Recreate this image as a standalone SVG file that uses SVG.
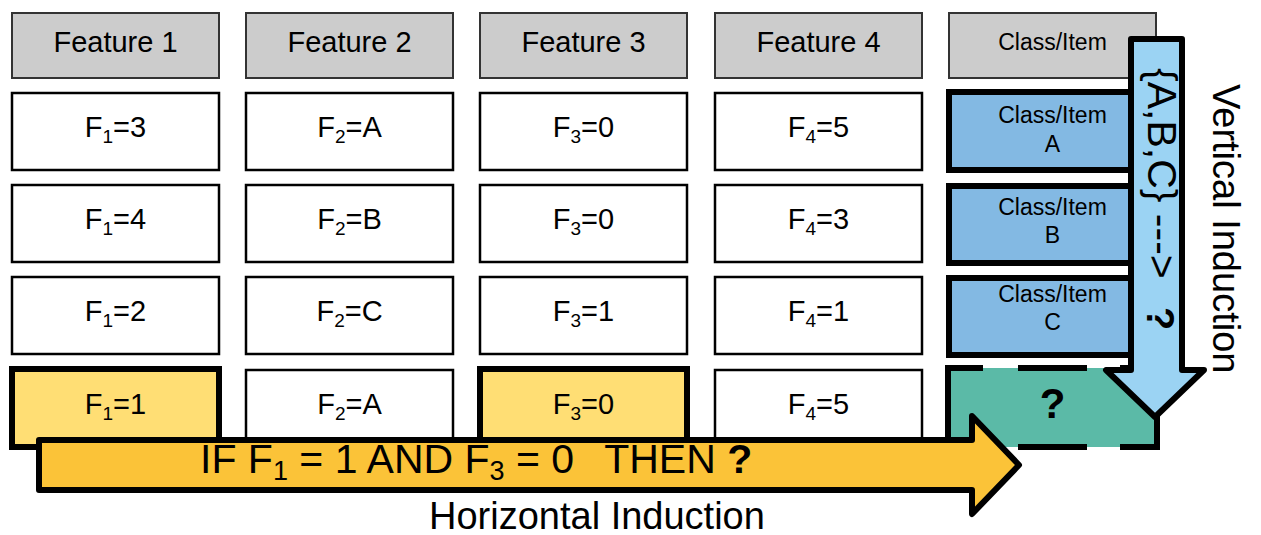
<svg xmlns="http://www.w3.org/2000/svg" width="1261" height="535" viewBox="0 0 1261 535">
  <style>
    text { font-family: "Liberation Sans", Arial, sans-serif; fill: #000; }
    .head { fill: #cccccc; stroke: #333; stroke-width: 2; }
    .cell { fill: #ffffff; stroke: #000; stroke-width: 2.5; }
    .hit { fill: #ffde74; stroke: #000; stroke-width: 6; }
    .cls { fill: #83b9e3; stroke: #000; stroke-width: 6; }
    .unknown { fill: #5bbaa7; }
    .edge { fill: none; stroke: #000; stroke-width: 6; stroke-linecap: butt; }
    .t28 { font-size: 29px; text-anchor: middle; }
    .t22 { font-size: 23px; text-anchor: middle; }
    .sub { font-size: 19px; }
    .arrow { stroke: #000; stroke-width: 6; stroke-linejoin: round; }
    .big { font-size: 38px; }
    .bold { font-weight: bold; }
  </style>

  <!-- header row -->
  <g id="header-f1"><rect class="head" x="12" y="13" width="207" height="65"/><text class="t28" x="115.5" y="52">Feature 1</text></g>
  <g id="header-f2"><rect class="head" x="246" y="13" width="207" height="65"/><text class="t28" x="349.5" y="52">Feature 2</text></g>
  <g id="header-f3"><rect class="head" x="480" y="13" width="207" height="65"/><text class="t28" x="583.5" y="52">Feature 3</text></g>
  <g id="header-f4"><rect class="head" x="715" y="13" width="207" height="65"/><text class="t28" x="818.5" y="52">Feature 4</text></g>
  <g id="header-class"><rect class="head" x="949" y="13" width="207" height="65"/><text class="t22" x="1052.5" y="50">Class/Item</text></g>

  <!-- row 1 -->
  <g id="r1-f1"><rect class="cell" x="12" y="93" width="207" height="77"/><text class="t28" x="115.5" y="137">F<tspan class="sub" dy="6">1</tspan><tspan dy="-6">=3</tspan></text></g>
  <g id="r1-f2"><rect class="cell" x="246" y="93" width="207" height="77"/><text class="t28" x="349.5" y="137">F<tspan class="sub" dy="6">2</tspan><tspan dy="-6">=A</tspan></text></g>
  <g id="r1-f3"><rect class="cell" x="480" y="93" width="207" height="77"/><text class="t28" x="583.5" y="137">F<tspan class="sub" dy="6">3</tspan><tspan dy="-6">=0</tspan></text></g>
  <g id="r1-f4"><rect class="cell" x="715" y="93" width="207" height="77"/><text class="t28" x="818.5" y="137">F<tspan class="sub" dy="6">4</tspan><tspan dy="-6">=5</tspan></text></g>
  <g id="r1-class"><rect class="cls" x="949" y="92" width="208" height="78"/><text class="t22" x="1052.5" y="123">Class/Item</text><text class="t22" x="1052.5" y="152">A</text></g>

  <!-- row 2 -->
  <g id="r2-f1"><rect class="cell" x="12" y="185" width="207" height="77"/><text class="t28" x="115.5" y="229">F<tspan class="sub" dy="6">1</tspan><tspan dy="-6">=4</tspan></text></g>
  <g id="r2-f2"><rect class="cell" x="246" y="185" width="207" height="77"/><text class="t28" x="349.5" y="229">F<tspan class="sub" dy="6">2</tspan><tspan dy="-6">=B</tspan></text></g>
  <g id="r2-f3"><rect class="cell" x="480" y="185" width="207" height="77"/><text class="t28" x="583.5" y="229">F<tspan class="sub" dy="6">3</tspan><tspan dy="-6">=0</tspan></text></g>
  <g id="r2-f4"><rect class="cell" x="715" y="185" width="207" height="77"/><text class="t28" x="818.5" y="229">F<tspan class="sub" dy="6">4</tspan><tspan dy="-6">=3</tspan></text></g>
  <g id="r2-class"><rect class="cls" x="949" y="186" width="208" height="77"/><text class="t22" x="1052.5" y="215">Class/Item</text><text class="t22" x="1052.5" y="243">B</text></g>

  <!-- row 3 -->
  <g id="r3-f1"><rect class="cell" x="12" y="277" width="207" height="77"/><text class="t28" x="115.5" y="321">F<tspan class="sub" dy="6">1</tspan><tspan dy="-6">=2</tspan></text></g>
  <g id="r3-f2"><rect class="cell" x="246" y="277" width="207" height="77"/><text class="t28" x="349.5" y="321">F<tspan class="sub" dy="6">2</tspan><tspan dy="-6">=C</tspan></text></g>
  <g id="r3-f3"><rect class="cell" x="480" y="277" width="207" height="77"/><text class="t28" x="583.5" y="321">F<tspan class="sub" dy="6">3</tspan><tspan dy="-6">=1</tspan></text></g>
  <g id="r3-f4"><rect class="cell" x="715" y="277" width="207" height="77"/><text class="t28" x="818.5" y="321">F<tspan class="sub" dy="6">4</tspan><tspan dy="-6">=1</tspan></text></g>
  <g id="r3-class"><rect class="cls" x="949" y="278" width="208" height="77"/><text class="t22" x="1052.5" y="302">Class/Item</text><text class="t22" x="1052.5" y="330">C</text></g>

  <!-- row 4: the new case -->
  <g id="r4-f1"><rect class="hit" x="12" y="369" width="207" height="78"/><text class="t28" x="115.5" y="414">F<tspan class="sub" dy="6">1</tspan><tspan dy="-6">=1</tspan></text></g>
  <g id="r4-f2"><rect class="cell" x="246" y="370" width="207" height="77"/><text class="t28" x="349.5" y="414">F<tspan class="sub" dy="6">2</tspan><tspan dy="-6">=A</tspan></text></g>
  <g id="r4-f3"><rect class="hit" x="480" y="369" width="207" height="78"/><text class="t28" x="583.5" y="414">F<tspan class="sub" dy="6">3</tspan><tspan dy="-6">=0</tspan></text></g>
  <g id="r4-f4"><rect class="cell" x="715" y="370" width="207" height="77"/><text class="t28" x="818.5" y="414">F<tspan class="sub" dy="6">4</tspan><tspan dy="-6">=5</tspan></text></g>
  <g id="r4-class">
    <rect class="unknown" x="949" y="368" width="208" height="79"/>
    <path class="edge" d="M948,450 V368 H983 M1018,368 H1087 M1120,368 H1157 V447 H1120 M1087,447 H1018 M983,447 H948"/>
    <text x="1052.5" y="418" font-size="42" font-weight="bold" text-anchor="middle">?</text>
  </g>

  <!-- induction arrows -->
  <g id="connectors">
    <g id="vertical-induction">
      <polygon class="arrow" fill="#9bd3f3" points="1131,39 1182,39 1182,370 1204,370 1155,417 1106,370 1131,370"/>
      <text font-size="41" transform="translate(1148,68) rotate(90)" x="0" y="0">{A,B,C} ---&gt;</text>
      <text class="big bold" transform="translate(1147,307) rotate(90)" x="0" y="0">?</text>
      <text class="big" transform="translate(1213,84) rotate(90)" x="0" y="0">Vertical Induction</text>
    </g>
    <g id="horizontal-induction">
      <polygon class="arrow" fill="#fbc338" points="39,440 972,440 972,416 1019,465 972,514 972,490 39,490"/>
      <text font-size="41" x="200" y="473" xml:space="preserve">IF F<tspan font-size="27" dy="7">1</tspan><tspan dy="-7"> = 1 AND F</tspan><tspan font-size="27" dy="7">3</tspan><tspan dy="-7"> = 0  </tspan><tspan dx="8">THEN </tspan><tspan class="bold">?</tspan></text>
      <text class="big" x="429" y="529">Horizontal Induction</text>
    </g>
  </g>
</svg>
